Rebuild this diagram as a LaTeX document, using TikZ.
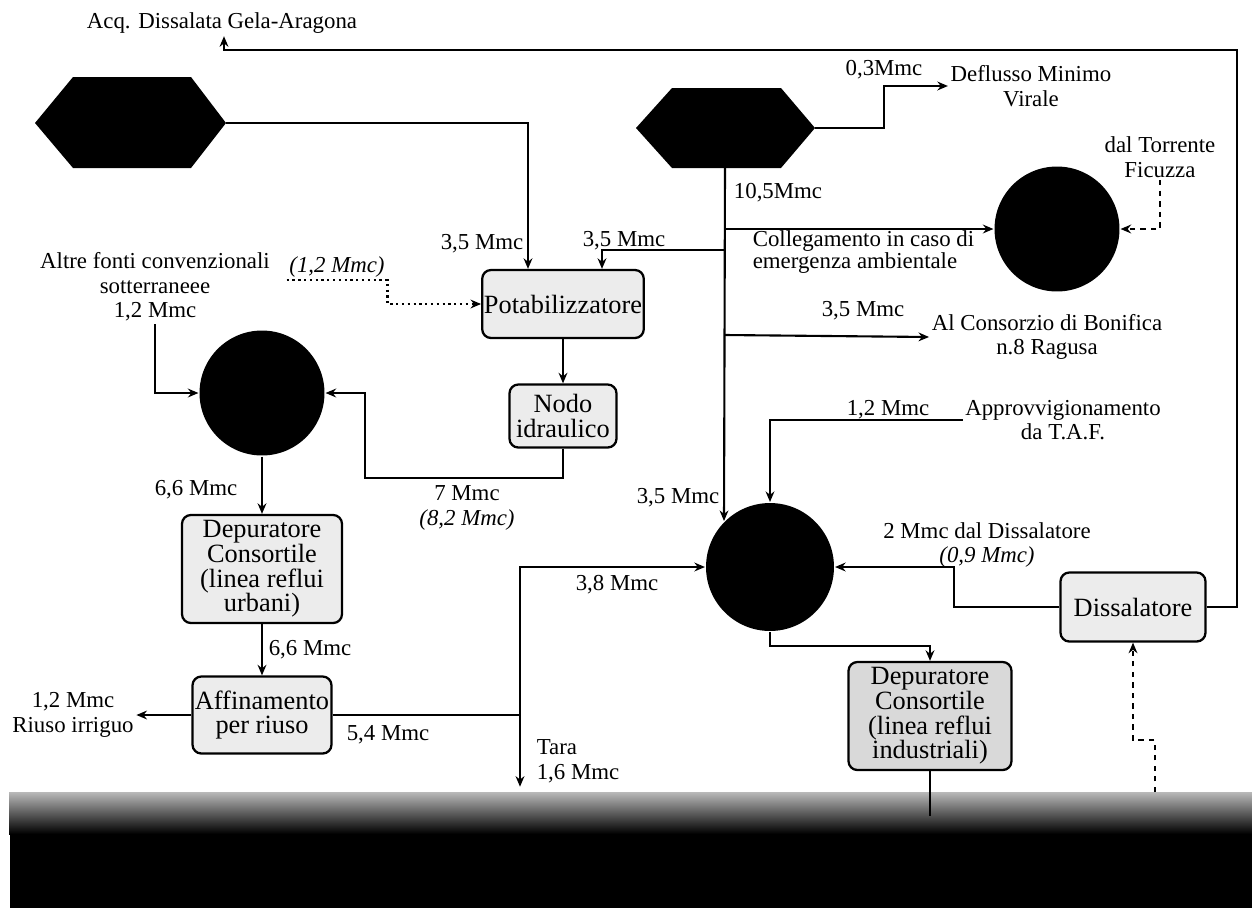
\documentclass[tikz,border=0pt]{standalone}
\usepackage{fontspec}
\setmainfont{Liberation Serif}
\usetikzlibrary{arrows.meta,calc}

\tikzset{
  etichetta/.style={font=\fontsize{13}{14}\selectfont, align=center, inner sep=1pt},
  impianto/.style={draw, line width=1.3pt, rounded corners=5pt, fill=gray!15,
    font=\fontsize{15}{14}\selectfont, align=center, inner sep=1pt},
  invaso/.style={circle, fill=black, inner sep=0pt, minimum size=2.5cm},
}

\begin{document}
\begin{tikzpicture}[x=0.02cm, y=-0.02cm, line width=1.2pt, >={Stealth[length=6pt,width=5pt]}]

  \useasboundingbox (0,0) rectangle (1252,907);

  % --- fascia scura in basso ---
  \node[fill=black, minimum width=24.86cm, minimum height=2.3cm, inner sep=0pt, anchor=north west]
        (mare) at (9,792) {};
  \shade[top color=gray!55, bottom color=black] (mare.north west) rectangle ($(mare.north east)+(0,42)$);

  % --- invasi (esagoni) ---
  \fill (35,123) -- (73,77) -- (191,77) -- (226,123) -- (191,168) -- (73,168) -- cycle;
  \coordinate (esaW) at (226,123);
  \fill (636,128) -- (672,88) -- (781,88) -- (815,128) -- (781,168) -- (672,168) -- cycle;
  \coordinate (esaEe) at (815,128);
  \coordinate (esaEs) at (725,168);

  % --- serbatoi ---
  \node[invaso] (lago) at (262,393) {};
  \node[invaso] (torrC) at (1057,229) {};
  \node[invaso, minimum size=2.56cm] (vasca) at (770,567) {};

  % --- impianti ---
  \node[impianto, minimum width=3.22cm, minimum height=1.36cm] (pota) at (563,304) {Potabilizzatore};
  \node[impianto, minimum width=2.14cm, minimum height=1.26cm] (nodo) at (563,416) {Nodo\\idraulico};
  \node[impianto, minimum width=3.2cm, minimum height=2.16cm] (depU) at (262,569)
    {Depuratore\\Consortile\\(linea reflui\\urbani)};
  \node[impianto, minimum width=2.78cm, minimum height=1.54cm] (affin) at (262,715) {Affinamento\\per riuso};
  \node[impianto, fill=gray!30, minimum width=3.26cm, minimum height=2.16cm] (depI) at (930,716)
    {Depuratore\\Consortile\\(linea reflui\\industriali)};
  \node[impianto, minimum width=2.9cm, minimum height=1.38cm] (dissal) at (1133,607) {Dissalatore};

  % --- etichette ---
  \node[etichetta] (titolo) at (222,23) {Acq. Dissalata Gela-Aragona};
  \node[etichetta] (m03) at (884,70) {0,3Mmc};
  \node[etichetta] (dmv) at (1031,86) {Deflusso Minimo\\Virale};
  \node[etichetta] (m105) at (778,193) {10,5Mmc};
  \node[etichetta] (torr) at (1160,157) {dal Torrente\\Ficuzza};
  \node[etichetta, font=\fontsize{13}{10}\selectfont, align=left, anchor=west] (coll) at (750,252)
    {Collegamento in caso di\\emergenza ambientale};
  \node[etichetta] (p35a) at (482,244) {3,5 Mmc};
  \node[etichetta] (p35b) at (624,241) {3,5 Mmc};
  \node[etichetta] (m35c) at (863,311) {3,5 Mmc};
  \node[etichetta] (cons) at (1047,337) {Al Consorzio di Bonifica\\n.8 Ragusa};
  \node[etichetta, font=\fontsize{13}{14}\selectfont\itshape] (mt12) at (337,267) {(1,2 Mmc)};
  \node[etichetta] (altre) at (155,287) {Altre fonti convenzionali\\sotterraneee\\1,2 Mmc};
  \node[etichetta] (m7) at (467,508) {7 Mmc\\\textit{(8,2 Mmc)}};
  \node[etichetta] (m66a) at (196,490) {6,6 Mmc};
  \node[etichetta] (m66b) at (310,650) {6,6 Mmc};
  \node[etichetta] (riuso) at (73,715) {1,2 Mmc\\Riuso irriguo};
  \node[etichetta] (m54) at (388,735) {5,4 Mmc};
  \node[etichetta, align=left, anchor=west] (tara) at (534,761) {Tara\\1,6 Mmc};
  \node[etichetta] (m38) at (617,585) {3,8 Mmc};
  \node[etichetta] (m35d) at (678,498) {3,5 Mmc};
  \node[etichetta] (m12t) at (888,410) {1,2 Mmc};
  \node[etichetta] (taf) at (1063,420) {Approvvigionamento\\da T.A.F.};
  \node[etichetta] (dis2) at (987,545) {2 Mmc dal Dissalatore\\\textit{(0,9 Mmc)}};

  % --- punti di snodo ---
  \coordinate (angR) at (1237,50);
  \coordinate (angL) at (224,50);
  \coordinate (kDmv) at (884,128);
  \coordinate (jPota) at (725,250);
  \coordinate (jCons) at (725,335);
  \coordinate (kNodo) at (365,478);
  \coordinate (jTara) at (520,715);
  \coordinate (kDis) at (954,607);
  \coordinate (kMare) at (1155,740);

  % --- collegamenti ---
  \draw[->] (dissal.east) -| (angR) -- (angL) -- (titolo.south -| angL);
  \draw[->] (esaW) -| ($(pota.north)+(-35,0)$);
  \draw[->] (esaEe) -- (kDmv) |- (dmv.west);
  \draw[->] (esaEs) -- (vasca.north west);
  \draw[->] (esaEs |- torrC.west) -- (torrC.west);
  \draw[->] (jPota) -| ($(pota.north)+(39,0)$);
  \draw[->] (jCons) -- (cons.west);
  \draw[->, dashed, line width=1.4pt] (torr.south) |- (torrC.east);
  \draw[->, dotted, line width=1.3pt] (mt12.south west) -- (mt12.south east) |- (pota.west);
  \draw[->] (pota.south) -- (nodo.north);
  \draw[->] (nodo.south) |- (kNodo) |- (lago.east);
  \draw[->] (altre.south) |- (lago.west);
  \draw[->] (lago.south) -- (depU.north);
  \draw[->] (depU.south) -- (affin.north);
  \draw[->] (affin.west) -- (riuso.east);
  \draw (affin.east) -- (jTara);
  \draw[->] (jTara) |- (vasca.west);
  \draw[->, shorten >=3pt] (jTara) -- (jTara |- mare.north);
  \draw[->] (taf.west) -| (vasca.north);
  \draw[->] (dissal.west) -- (kDis) |- (vasca.east);
  \draw[->] (vasca.south) -- ++(0,14) -| (depI.north);
  \draw (depI.south) -- ++(0,45);
  \draw[->, dashed, line width=1.5pt] (kMare |- mare.north) -- (kMare) -| (dissal.south);

\end{tikzpicture}
\end{document}
